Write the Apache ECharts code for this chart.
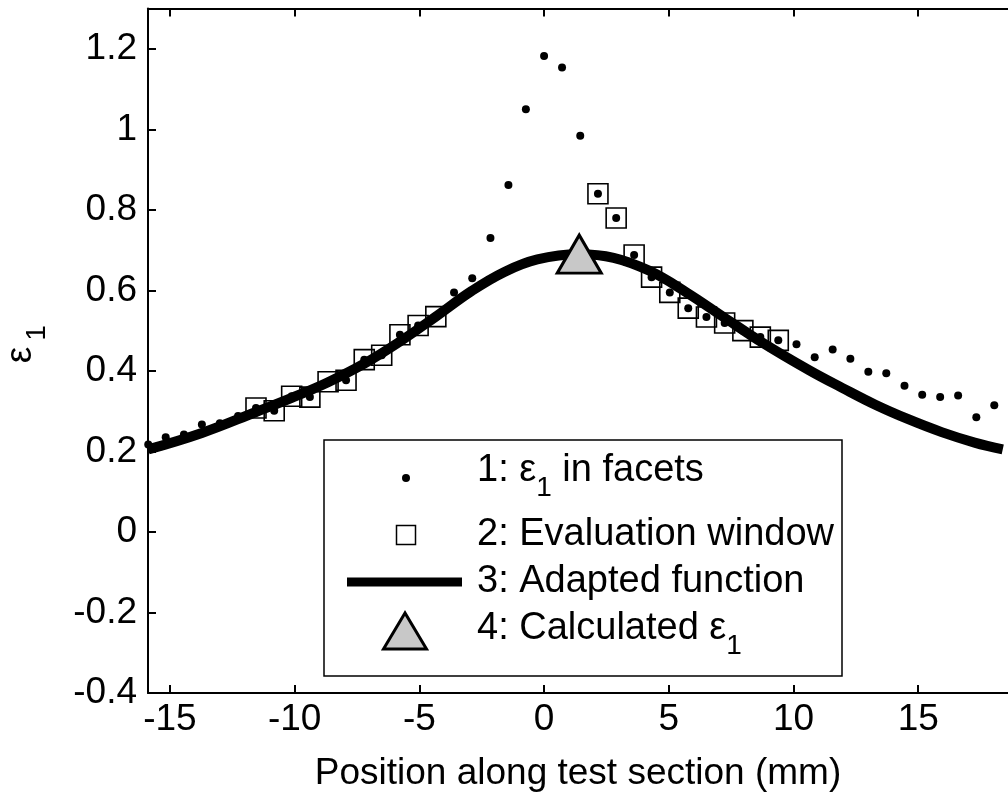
<!DOCTYPE html>
<html><head><meta charset="utf-8">
<script src="https://cdn.jsdelivr.net/npm/echarts@6/dist/echarts.min.js"></script>
<style>html,body{margin:0;padding:0;background:#fff;} #c{width:1008px;height:797px;}</style>
</head><body><div id="c"></div>
<script>
// ---- data ----
const facetX = [-15.87,-15.17,-14.44,-13.72,-13.0,-12.27,-11.55,-10.82,-10.12,-9.39,-8.66,-7.94,-7.21,-6.51,-5.78,-5.05,-4.34,-3.61,-2.88,-2.15,-1.43,-0.73,0.0,0.72,1.45,2.16,2.89,3.61,4.31,5.04,5.78,6.51,7.24,7.97,8.67,9.39,10.12,10.85,11.57,12.28,13.0,13.72,14.45,15.16,15.88,16.60,17.33,18.05];
const facetY = [0.217,0.235,0.242,0.267,0.270,0.288,0.308,0.301,0.337,0.335,0.373,0.377,0.428,0.439,0.490,0.513,0.535,0.595,0.630,0.730,0.862,1.050,1.182,1.154,0.984,0.840,0.780,0.688,0.633,0.595,0.556,0.534,0.519,0.500,0.484,0.476,0.466,0.434,0.453,0.430,0.398,0.394,0.363,0.341,0.335,0.339,0.285,0.315];
const windowX = [-11.55,-10.82,-10.12,-9.39,-8.66,-7.94,-7.21,-6.51,-5.78,-5.05,-4.34,2.16,2.89,3.61,4.31,5.04,5.78,6.51,7.24,7.97,8.67,9.39];
const windowY = [0.308,0.301,0.337,0.335,0.373,0.377,0.428,0.439,0.490,0.513,0.535,0.840,0.780,0.688,0.633,0.595,0.556,0.534,0.519,0.500,0.484,0.476];
const fitX = [-15.87,-13.72,-11.55,-10.12,-8.66,-7.21,-5.78,-4.34,-2.92,-1.59,-0.27,1.39,2.79,4.25,5.71,7.17,8.76,10.62,11.95,13.28,14.6,15.94,17.26,18.39];
const fitY = [0.205,0.246,0.298,0.333,0.372,0.418,0.473,0.535,0.598,0.646,0.677,0.690,0.681,0.648,0.595,0.535,0.470,0.402,0.358,0.316,0.280,0.248,0.222,0.205];
const calcX = [1.41];
const calcY = [0.69];
const xTicks = [-15,-10,-5,0,5,10,15];
const yTicks = [-0.4,-0.2,0,0.2,0.4,0.6,0.8,1,1.2];
const xTitle = 'Position along test section (mm)';
const yTitleParts = ['ε','1'];
const legendParts = [
  [['1: ε',0],['1',1],[' in facets',0]],
  [['2: Evaluation window',0]],
  [['3: Adapted function',0]],
  [['4: Calculated ε',0],['1',1]]
];
// ---------------------------------------

const FONT = '"Liberation Sans", Arial, sans-serif';
const FS = 37, LFS = 38, SUB = 28;
const ctx2 = document.createElement('canvas').getContext('2d');
function tw(t, s){ ctx2.font = s + 'px "Liberation Sans"'; return ctx2.measureText(t).width; }
const zip = (a,b) => a.map((v,i)=>[v,b[i]]);

const chart = echarts.init(document.getElementById('c'), null, {renderer:'canvas'});

const axisCommon = {
  type:'value', splitLine:{show:false},
  axisLine:{onZero:false, lineStyle:{color:'#000', width:2}},
};

// legend graphics
const graphics = [];
const LX = 324, LY = 440, LW = 518, LH = 236;
graphics.push({type:'rect', shape:{x:LX,y:LY,width:LW,height:LH}, style:{fill:'#fff', stroke:'#000', lineWidth:1.5}, z:100});
const rowY = [471, 535, 582, 629];
const textX = 477;
legendParts.forEach((parts, r) => {
  let x = textX;
  parts.forEach(([t, sub]) => {
    const s = sub ? SUB : LFS;
    graphics.push({type:'text', x:x, y: rowY[r] + (sub ? 17 : 0), z:101,
      style:{text:t, font: s + 'px ' + FONT, fill:'#000', align:'left', verticalAlign:'middle', textAlign:'left', textVerticalAlign:'middle'}});
    x += tw(t, s);
  });
});
// legend icons
graphics.push({type:'circle', shape:{cx:406, cy:478, r:4}, style:{fill:'#000'}, z:101});
graphics.push({type:'rect', shape:{x:396.5, y:525.5, width:19, height:19}, style:{fill:'none', stroke:'#000', lineWidth:1.5}, z:101});
graphics.push({type:'line', shape:{x1:347, y1:582, x2:462, y2:582}, style:{stroke:'#000', lineWidth:9}, z:101});
graphics.push({type:'polygon', shape:{points:[[405,613],[383.5,649],[426.5,649]]}, style:{fill:'#c8c8c8', stroke:'#000', lineWidth:3, lineJoin:'miter'}, z:101});
// y axis title
graphics.push({type:'text', x:21, y:355, rotation:Math.PI/2, style:{text:yTitleParts[0], font: FS + 'px ' + FONT, fill:'#000', align:'center', verticalAlign:'middle', textAlign:'center', textVerticalAlign:'middle'}});
graphics.push({type:'text', x:37, y:333, rotation:Math.PI/2, style:{text:yTitleParts[1], font: SUB + 'px ' + FONT, fill:'#000', align:'center', verticalAlign:'middle', textAlign:'center', textVerticalAlign:'middle'}});

chart.setOption({
  animation:false,
  backgroundColor:'#fff',
  grid:{left:148, top:8.6, width:866, height:686.4, containLabel:false},
  xAxis:[
    Object.assign({}, axisCommon, {position:'bottom', min:-15.88, max:18.6,
      axisTick:{inside:true, length:8, customValues:xTicks, lineStyle:{color:'#000', width:2}},
      axisLabel:{customValues:xTicks, fontSize:FS, fontFamily:FONT, color:'#000', margin:8},
      name:xTitle, nameLocation:'middle', nameGap:62,
      nameTextStyle:{fontSize:FS, fontFamily:FONT, color:'#000'}}),
    Object.assign({}, axisCommon, {position:'top', min:-15.88, max:18.6,
      axisTick:{inside:true, length:8, customValues:xTicks, lineStyle:{color:'#000', width:2}},
      axisLabel:{show:false}})
  ],
  yAxis:[
    Object.assign({}, axisCommon, {position:'left', min:-0.4, max:1.3,
      axisTick:{inside:true, length:8, customValues:yTicks, lineStyle:{color:'#000', width:2}},
      axisLabel:{customValues:yTicks, fontSize:FS, fontFamily:FONT, color:'#000', margin:11}})
  ],
  series:[
    {type:'scatter', name:'facets', data:zip(facetX, facetY), symbol:'circle', symbolSize:8, itemStyle:{color:'#000', opacity:1}, emphasis:{disabled:true}, z:2},
    {type:'scatter', name:'window', data:zip(windowX, windowY), symbol:'rect', symbolSize:20, itemStyle:{color:'rgba(0,0,0,0)', borderColor:'#000', borderWidth:1.6, opacity:1}, emphasis:{disabled:true}, z:3},
    {type:'line', name:'fit', data:zip(fitX, fitY), smooth:0.4, showSymbol:false, symbol:'none', lineStyle:{color:'#000', width:10, opacity:1}, emphasis:{disabled:true}, z:4},
    {type:'scatter', name:'calc', data:zip(calcX, calcY), symbol:'triangle', symbolSize:[44,38], itemStyle:{color:'#c8c8c8', borderColor:'#000', borderWidth:3, opacity:1}, emphasis:{disabled:true}, z:5}
  ],
  graphic:graphics
});
</script></body></html>
